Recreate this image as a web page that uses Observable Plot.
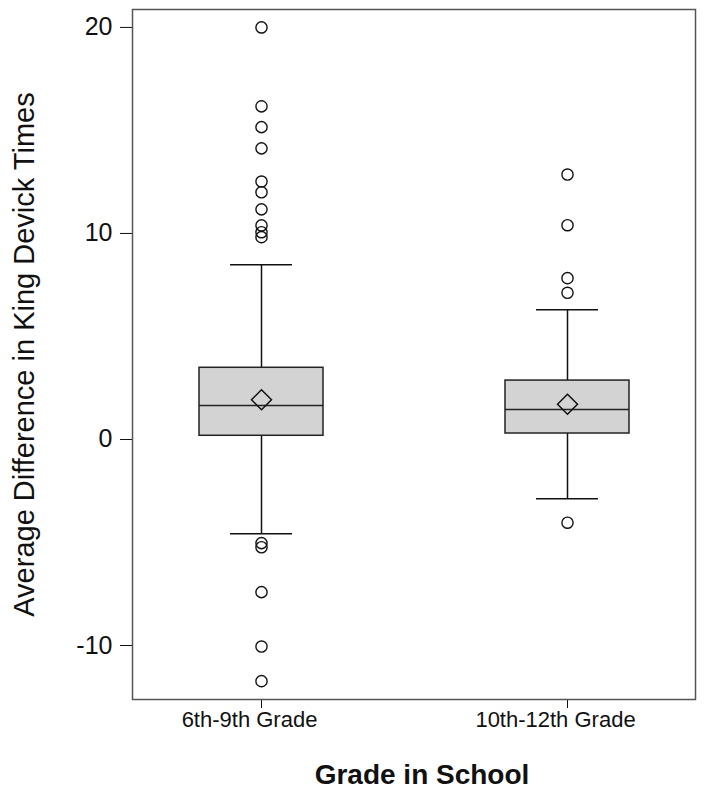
<!DOCTYPE html>
<html>
<head>
<meta charset="utf-8">
<script src="https://cdn.jsdelivr.net/npm/d3@7"></script>
<script src="https://cdn.jsdelivr.net/npm/@observablehq/plot@0.6"></script>
<style>
  html, body { margin: 0; padding: 0; background: #fff; }
  #chart { width: 705px; height: 794px; }
</style>
</head>
<body>
<div id="chart"></div>
<script>
const grades = ["6th-9th Grade", "10th-12th Grade"];
const q1 = [0.18, 0.29];
const median = [1.65, 1.46];
const q3 = [3.48, 2.86];
const mean = [1.93, 1.71];
const whiskerLow = [-4.58, -2.88];
const whiskerHigh = [8.48, 6.30];
const outliers6to9 = [20.0, 16.17, 15.16, 14.13, 12.52, 12.0, 11.17, 10.39, 10.06, 9.82, -5.03, -5.23, -7.41, -10.05, -11.73];
const outliers10to12 = [12.86, 10.40, 7.83, 7.12, -4.04];
const yTicks = [-10, 0, 10, 20];
const yTitle = "Average Difference in King Devick Times";
const xTitle = "Grade in School";

const boxes = grades.map((g, i) => ({
  grade: g, q1: q1[i], median: median[i], q3: q3[i], mean: mean[i],
  lo: whiskerLow[i], hi: whiskerHigh[i]
}));
const outliers = [
  ...outliers6to9.map(v => ({grade: grades[0], value: v})),
  ...outliers10to12.map(v => ({grade: grades[1], value: v}))
];

const font = "Arial, 'Liberation Sans', Helvetica, sans-serif";
const ink = "#111";
const sw = 1.5;

const chart = Plot.plot({
  width: 705,
  height: 794,
  marginLeft: 132,
  marginRight: 10,
  marginTop: 9,
  marginBottom: 95,
  style: {fontFamily: font, fontSize: "25px", background: "#fff", color: ink},
  x: {type: "band", domain: grades, paddingInner: 0.596, paddingOuter: 0.215, label: null, tickSize: 9, tickFormat: () => ""},
  y: {domain: [-12.62, 20.87], ticks: yTicks, tickSize: 12, tickPadding: 8, tickFormat: d => String(d), label: null},
  marks: [
    Plot.frame({stroke: "#555", strokeWidth: sw}),
    Plot.ruleX(boxes, {x: "grade", y1: "q3", y2: "hi", stroke: ink, strokeWidth: sw}),
    Plot.ruleX(boxes, {x: "grade", y1: "lo", y2: "q1", stroke: ink, strokeWidth: sw}),
    Plot.tickY(boxes, {x: "grade", y: "hi", insetLeft: 31, insetRight: 31, stroke: ink, strokeWidth: sw}),
    Plot.tickY(boxes, {x: "grade", y: "lo", insetLeft: 31, insetRight: 31, stroke: ink, strokeWidth: sw}),
    Plot.barY(boxes, {x: "grade", y1: "q1", y2: "q3", fill: "#d3d3d3", stroke: "#222", strokeWidth: sw}),
    Plot.tickY(boxes, {x: "grade", y: "median", stroke: "#222", strokeWidth: sw}),
    Plot.dot(boxes, {x: "grade", y: "mean", symbol: "diamond2", r: 9, stroke: ink, strokeWidth: sw, fill: "none"}),
    Plot.dot(outliers, {x: "grade", y: "value", r: 5.6, stroke: ink, strokeWidth: 1.4, fill: "none"}),
    Plot.text(grades, {x: d => d, frameAnchor: "bottom", dy: 12, dx: -12, lineAnchor: "top", textAnchor: "middle", fontSize: 22, fill: ink}),
    Plot.text([yTitle], {frameAnchor: "left", rotate: -90, dx: -108, lineAnchor: "middle", textAnchor: "middle", fontSize: 29, fill: ink}),
    Plot.text([xTitle], {frameAnchor: "bottom", dx: 8, dy: 76, lineAnchor: "middle", textAnchor: "middle", fontSize: 28, fontWeight: "bold", fill: ink})
  ]
});
document.getElementById("chart").appendChild(chart);
</script>
</body>
</html>
